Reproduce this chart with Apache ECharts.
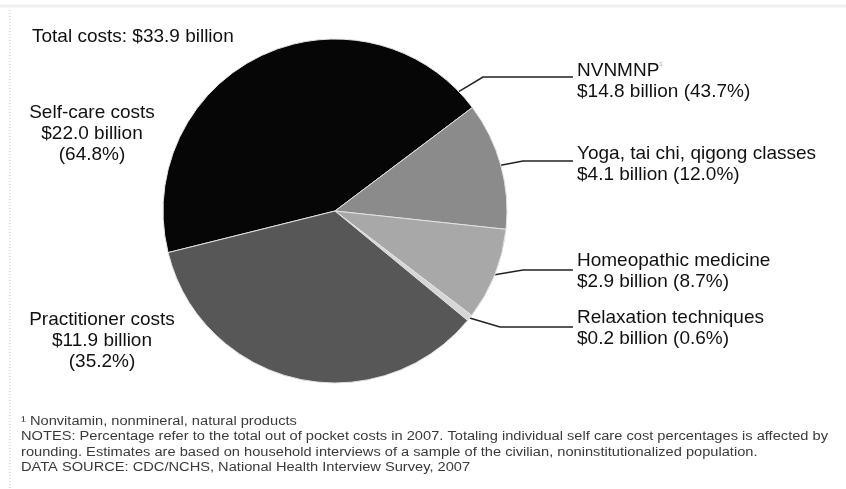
<!DOCTYPE html>
<html><head><meta charset="utf-8">
<script src="https://cdn.jsdelivr.net/npm/echarts@6/dist/echarts.min.js"></script>
<style>html,body{margin:0;padding:0;background:#fff}#c{width:846px;height:489px}</style>
</head><body><div id="c"></div>
<script>
// ---- data ----
const categories = ['NVNMNP', 'Yoga, tai chi, qigong classes', 'Homeopathic medicine', 'Relaxation techniques', 'Practitioner costs'];
const billions = [14.8, 4.1, 2.9, 0.2, 11.9];
const percents = [43.7, 12.0, 8.7, 0.6, 35.2];
const totalText = 'Total costs: $33.9 billion';
const selfCareText = ['Self-care costs', '$22.0 billion', '(64.8%)'];
const footnotes = [
  '\u00b9 Nonvitamin, nonmineral, natural products',
  'NOTES: Percentage refer to the total out of pocket costs in 2007. Totaling individual self care cost percentages is affected by',
  'rounding. Estimates are based on household interviews of a sample of the civilian, noninstitutionalized population.',
  'DATA SOURCE: CDC/NCHS, National Health Interview Survey, 2007'
];

// ---- styling / layout ----
const colors = ['#060606', '#8b8b8b', '#a8a8a8', '#d6d6d6', '#575757'];
const FONT = '"Liberation Sans", Arial, sans-serif';
const CX = 335, CY = 211, R = 172;
const labelPos = [
  { x: 577, y: 60, align: 'left', anchorAngle: 44, bend: [483, 77], endX: 573 },
  { x: 577, y: 143, align: 'left', bend: [523, 161], endX: 573 },
  { x: 577, y: 250, align: 'left', bend: [523, 270], endX: 573 },
  { x: 577, y: 307, align: 'left', bend: [500, 327], endX: 573 },
  { x: 102, y: 309.5, align: 'center' }
];

const seriesData = categories.map((c, i) => ({
  name: c,
  value: percents[i],
  itemStyle: { color: colors[i] },
  labelLine: { show: i !== 4 }
}));

function fmtLabel(p) {
  const i = p.dataIndex;
  const b = '$' + billions[i].toFixed(1) + ' billion';
  const pc = '(' + percents[i].toFixed(1) + '%)';
  if (i === 0) return '{a|' + categories[i] + '}{s|\u00b9}\n{a|' + b + ' ' + pc + '}';
  if (i === 4) return '{a|' + categories[i] + '}\n{a|' + b + '}\n{a|' + pc + '}';
  return '{a|' + categories[i] + '}\n{a|' + b + ' ' + pc + '}';
}

const chart = echarts.init(document.getElementById('c'));
const fnGraphics = footnotes.map((t, i) => ({
  type: 'text', x: 21, y: 421.5 + i * 15.5, scaleX: 1.22,
  style: { text: t, font: '12px ' + FONT, fill: '#3a3a3a', textVerticalAlign: 'middle' }
}));

chart.setOption({
  backgroundColor: '#fff',
  animation: false,
  series: [{
    type: 'pie',
    center: [CX, CY],
    radius: R,
    startAngle: 194,
    clockwise: true,
    avoidLabelOverlap: false,
    data: seriesData,
    itemStyle: { borderColor: '#e2e2e2', borderWidth: 1 },
    label: {
      show: true,
      position: 'outside',
      formatter: fmtLabel,
      color: '#111',
      fontFamily: FONT,
      fontSize: 19,
      lineHeight: 21,
      rich: {
        a: { fontFamily: FONT, fontSize: 19, lineHeight: 21, color: '#111' },
        s: { fontFamily: FONT, fontSize: 10, lineHeight: 21, color: '#aaa', verticalAlign: 'top' }
      }
    },
    labelLine: { show: true, lineStyle: { color: '#222', width: 1.5 } },
    labelLayout: function (p) {
      const i = p.dataIndex;
      const L = labelPos[i];
      const res = { x: L.x, y: L.y, align: L.align, verticalAlign: 'top' };
      if (L.bend) {
        let start = p.labelLinePoints ? p.labelLinePoints[0] : [CX, CY];
        if (L.anchorAngle != null) {
          const a = L.anchorAngle * Math.PI / 180;
          start = [CX + R * Math.cos(a), CY - R * Math.sin(a)];
        }
        res.labelLinePoints = [start, L.bend, [L.endX, L.bend[1]]];
      }
      return res;
    }
  }],
  graphic: [
    { type: 'line', shape: { x1: 10, y1: 10, x2: 10, y2: 489 }, style: { stroke: '#c8c8c8', lineWidth: 1, lineDash: [1, 2] } },
    { type: 'line', shape: { x1: 0, y1: 6, x2: 846, y2: 6 }, style: { stroke: '#f0f0f0', lineWidth: 3 } },
    { type: 'text', x: 32, y: 37, style: { text: totalText, font: '19px ' + FONT, fill: '#111', textVerticalAlign: 'middle' } },
    { type: 'text', x: 92, y: 102.5, style: { text: selfCareText.join('\n'), font: '19px ' + FONT, lineHeight: 21, fill: '#111', textAlign: 'center', textVerticalAlign: 'top' } }
  ].concat(fnGraphics)
});
</script></body></html>
